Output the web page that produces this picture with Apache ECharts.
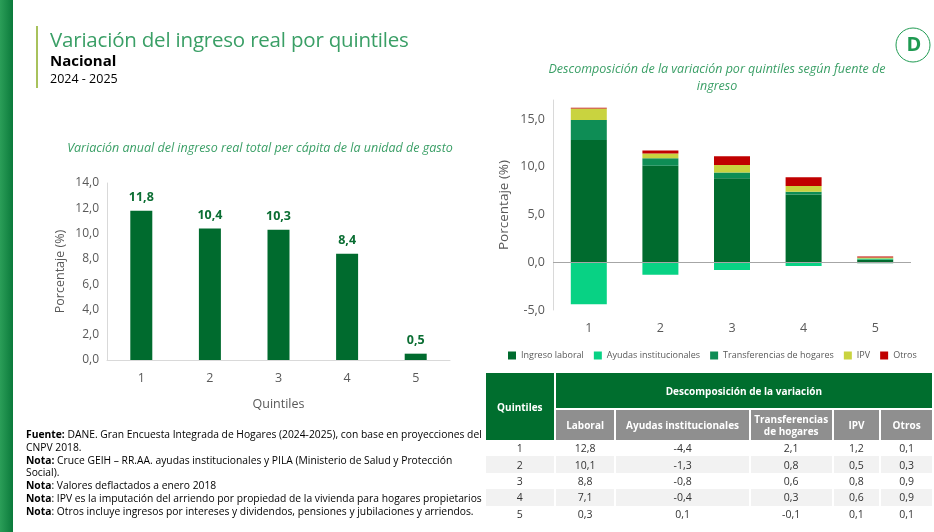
<!DOCTYPE html>
<html>
<head>
<meta charset="utf-8">
<script src="https://cdn.jsdelivr.net/npm/echarts/dist/echarts.min.js"></script>
<style>
  html, body { margin: 0; padding: 0; background: #fff; }
  body { font-family: "Open Sans", "Noto Sans", sans-serif; }
  #main { position: absolute; left: 0; top: 0; width: 934px; height: 532px; }
  .titulo { position: absolute; left: 50px; top: 25px; color: #3a9f66; font-size: 20.5px; white-space: nowrap; letter-spacing: -0.2px; }
  .nacional { position: absolute; left: 50px; top: 50px; font-size: 15px; font-weight: bold; color: #000; }
  .periodo { position: absolute; left: 50px; top: 70px; font-size: 12.5px; color: #000; }
  #notas { position: absolute; left: 26px; top: 428px; font-size: 10.3px; line-height: 12.8px; color: #000; white-space: nowrap; }
  #notas b { font-weight: bold; }
  #tabla { position: absolute; left: 484px; top: 373px; width: 450px; border-collapse: separate; border-spacing: 2px 0; font-size: 10px; }
  #tabla th { color: #fff; font-weight: bold; padding: 0; }
  #tabla th.verde { background: #006e2e; }
  #tabla th.gris { background: #8f8f8f; height: 30px; line-height: 12px; }
  #tabla td { text-align: center; color: #333; height: 16.4px; padding: 0; font-size: 10.5px; }
  #tabla tr.par td { background: #f2f2f2; }
</style>
</head>
<body>
<div id="main"></div>
<div class="titulo">Variación del ingreso real por quintiles</div>
<div class="nacional">Nacional</div>
<div class="periodo">2024 - 2025</div>
<div id="notas">
  <b>Fuente:</b> DANE. Gran Encuesta Integrada de Hogares (2024-2025), con base en proyecciones del<br>CNPV 2018.<br>
  <b>Nota:</b> Cruce GEIH – RR.AA. ayudas institucionales y PILA (Ministerio de Salud y Protección<br>Social).<br>
  <b>Nota</b>: Valores deflactados a enero 2018<br>
  <b>Nota</b>: IPV es la imputación del arriendo por propiedad de la vivienda para hogares propietarios<br>
  <b>Nota</b>: Otros incluye ingresos por intereses y dividendos, pensiones y jubilaciones y arriendos.
</div>
<table id="tabla"></table>
<script>
// datos
var quintiles = ['1', '2', '3', '4', '5'];
var variacionTotal = [11.8, 10.4, 10.3, 8.4, 0.5];
var laboral = [12.8, 10.1, 8.8, 7.1, 0.3];
var ayudas = [-4.4, -1.3, -0.8, -0.4, 0.1];
var transferencias = [2.1, 0.8, 0.6, 0.3, -0.1];
var ipv = [1.2, 0.5, 0.8, 0.6, 0.1];
var otros = [0.1, 0.3, 0.9, 0.9, 0.1];
var fuentes = ['Ingreso laboral', 'Ayudas institucionales', 'Transferencias de hogares', 'IPV', 'Otros'];
var cabeceras = ['Laboral', 'Ayudas institucionales', 'Transferencias<br>de hogares', 'IPV', 'Otros'];
var colores = ['#006b2e', '#08d284', '#0e8d55', '#c9d33f', '#c00000'];

function coma(v) {
  return v.toFixed(1).replace('.', ',');
}

// tabla de descomposicion
var columnas = [laboral, ayudas, transferencias, ipv, otros];
var anchos = [59, 133, 81, 46, 51];
var html = '<tr><th class="verde" rowspan="2" style="width:68px">Quintiles</th>' +
  '<th class="verde" colspan="5" style="height:35px;border-bottom:2px solid #fff">Descomposición de la variación</th></tr><tr>';
cabeceras.forEach(function(c, i) {
  html += '<th class="gris" style="width:' + anchos[i] + 'px">' + c + '</th>';
});
html += '</tr>';
quintiles.forEach(function(q, r) {
  html += '<tr class="' + (r % 2 ? 'par' : '') + '"><td>' + q + '</td>';
  columnas.forEach(function(col) { html += '<td>' + coma(col[r]) + '</td>'; });
  html += '</tr>';
});
document.getElementById('tabla').innerHTML = html;

var gris = '#595959';
var fuente = '"Open Sans", "Noto Sans", sans-serif';
var myChart = echarts.init(document.getElementById('main'));

var seriesDesc = [laboral, ayudas, transferencias, ipv, otros].map(function(d, i) {
  var s = {
    name: fuentes[i],
    type: 'bar',
    stack: 'desc',
    xAxisIndex: 1,
    yAxisIndex: 1,
    barWidth: 36,
    data: d,
    itemStyle: { color: colores[i] }
  };
  if (i === 0) {
    // linea del cero
    s.markLine = {
      silent: true, symbol: 'none', label: { show: false },
      lineStyle: { color: '#a6a6a6', type: 'solid', width: 1 },
      data: [{ yAxis: 0 }]
    };
  }
  return s;
});

var option = {
  textStyle: { fontFamily: fuente },
  animation: false,
  title: [{
    text: 'Variación anual del ingreso real total per cápita de la unidad de gasto',
    left: 255, top: 137, textAlign: 'center',
    textStyle: { fontSize: 12.5, fontStyle: 'italic', fontWeight: 'normal', color: '#3a9f66' }
  }, {
    text: 'Descomposición de la variación por quintiles según fuente de\ningreso',
    left: 712, top: 56, textAlign: 'center',
    textStyle: { fontSize: 12.5, fontStyle: 'italic', fontWeight: 'normal', color: '#3a9f66', lineHeight: 17 }
  }],
  graphic: [{
    type: 'rect', shape: { x: 0, y: 0, width: 13, height: 532 },
    style: { fill: new echarts.graphic.LinearGradient(0, 0, 1, 0, [
      { offset: 0, color: '#2b9e58' }, { offset: 1, color: '#0b7a3b' }]) }
  }, {
    type: 'rect', shape: { x: 36, y: 26, width: 2, height: 62 },
    style: { fill: '#a8c25c' }
  }, {
    type: 'circle', shape: { cx: 913, cy: 45, r: 17 },
    style: { fill: '#fff', stroke: '#1f9a52', lineWidth: 1 }
  }, {
    type: 'text', x: 914, y: 45,
    style: { text: 'D', fill: '#1f9a52', font: 'bold 20px ' + fuente, align: 'center', verticalAlign: 'middle' }
  }],
  legend: {
    data: fuentes,
    left: 508, top: 351,
    padding: 0,
    itemWidth: 8, itemHeight: 8, itemGap: 10,
    icon: 'rect',
    textStyle: { fontSize: 9, color: gris }
  },
  grid: [
    { left: 107, top: 183, width: 343, height: 177 },
    { left: 553, top: 100, width: 358, height: 210 }
  ],
  xAxis: [{
    type: 'category', gridIndex: 0, data: quintiles,
    name: 'Quintiles', nameLocation: 'middle', nameGap: 38,
    nameTextStyle: { fontSize: 12.5, color: gris },
    axisLine: { lineStyle: { color: '#d9d9d9' } },
    axisTick: { show: false },
    axisLabel: { fontSize: 12.5, color: gris, margin: 12 }
  }, {
    type: 'category', gridIndex: 1, data: quintiles,
    axisLine: { show: false },
    axisTick: { show: false },
    axisLabel: { fontSize: 12.5, color: gris, margin: 12 }
  }],
  yAxis: [{
    type: 'value', gridIndex: 0, min: 0, max: 14, interval: 2,
    name: 'Porcentaje (%)', nameLocation: 'middle', nameGap: 40, nameRotate: 90,
    nameTextStyle: { fontSize: 12.5, color: gris },
    axisLine: { show: true, lineStyle: { color: '#d9d9d9' } },
    splitLine: { show: false },
    axisLabel: { fontSize: 12, color: gris, formatter: function(v) { return coma(v); } }
  }, {
    type: 'value', gridIndex: 1, min: -5, max: 17, interval: 5,
    name: 'Porcentaje (%)', nameLocation: 'middle', nameGap: 42, nameRotate: 90,
    nameTextStyle: { fontSize: 13.5, color: gris },
    axisLine: { show: true, lineStyle: { color: '#d9d9d9' } },
    splitLine: { show: false },
    axisLabel: { fontSize: 12.5, color: gris, formatter: function(v) { return v % 5 === 0 ? coma(v) : ''; } }
  }],
  series: [{
    name: 'Variación total',
    type: 'bar',
    xAxisIndex: 0, yAxisIndex: 0,
    barWidth: 22,
    data: variacionTotal,
    itemStyle: { color: '#006b2e' },
    label: {
      show: true, position: 'top', distance: 7,
      fontSize: 12.5, fontWeight: 'bold', color: '#0b6e33',
      formatter: function(p) { return coma(p.value); }
    }
  }].concat(seriesDesc)
};
myChart.setOption(option);
</script>
</body>
</html>
